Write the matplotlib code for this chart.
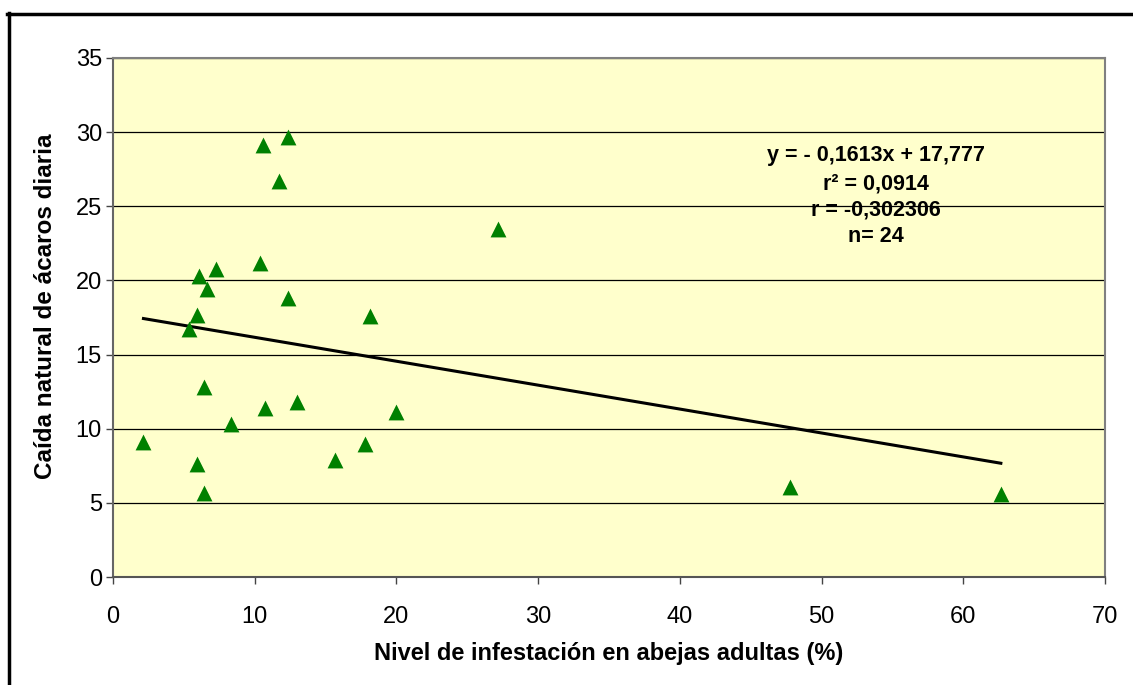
import matplotlib.pyplot as plt
from matplotlib.lines import Line2D

plt.rcParams['font.family'] = ['Liberation Sans', 'DejaVu Sans']

# datos
infestacion = [10.6, 12.35, 11.7, 10.4, 7.3, 6.1, 6.6, 12.35, 5.9, 5.35,
               6.45, 10.75, 12.95, 8.35, 2.15, 5.9, 6.45, 15.7, 17.75, 19.95,
               18.1, 27.15, 47.75, 62.65]
caida = [29.1, 29.7, 26.7, 21.2, 20.8, 20.3, 19.45, 18.8, 17.7, 16.75,
         12.8, 11.4, 11.8, 10.35, 9.1, 7.6, 5.65, 7.9, 9.0, 11.1,
         17.6, 23.45, 6.1, 5.6]

pendiente = -0.1613
intercepto = 17.777
texto_ajuste = ["y = - 0,1613x + 17,777", "r² = 0,0914", "r = -0,302306", "n= 24"]

fig = plt.figure(figsize=(11.33, 6.85), dpi=100)
ax = fig.add_axes([113 / 1133, 1 - 577 / 685, 992 / 1133, 519 / 685])
ax.set_facecolor('#FFFFCC')

ax.scatter(infestacion, caida, marker='^', s=130, color='#008000', zorder=3, linewidths=0)

x0, x1 = min(infestacion), max(infestacion)
ax.plot([x0, x1], [pendiente * x0 + intercepto, pendiente * x1 + intercepto],
        color='black', lw=2.2, zorder=2)

ax.set_xlim(0, 70)
ax.set_ylim(0, 35)
ax.set_xticks(range(0, 71, 10))
ax.set_yticks(range(0, 36, 5))
ax.yaxis.grid(True, color='black', lw=0.9)
ax.set_axisbelow(True)

for s in ax.spines.values():
    s.set_color('#808080')
    s.set_linewidth(1.5)
ax.spines['left'].set_color('#666666')
ax.spines['bottom'].set_color('#555555')

ax.tick_params(axis='both', direction='out', length=5, width=1, color='#444444',
               labelsize=17)
ax.tick_params(axis='y', pad=3)
ax.tick_params(axis='x', pad=16)

ax.set_xlabel('Nivel de infestación en abejas adultas (%)', fontsize=17,
              fontweight='bold', labelpad=10)
ax.set_ylabel('Caída natural de ácaros diaria', fontsize=17.5, fontweight='bold')
ax.yaxis.set_label_coords((57 - 113) / 992, (577 - 306) / 519)

# texto de la ecuacion
ys = [155.7, 184, 210, 236]
for t, yp in zip(texto_ajuste, ys):
    ax.text((876 - 113) / 992, (577 - yp) / 519, t, transform=ax.transAxes,
            ha='center', va='center', fontsize=15.5, fontweight='bold')

# marco exterior
fig.add_artist(Line2D([7 / 1133, 1], [1 - 13.5 / 685, 1 - 13.5 / 685],
                      color='black', lw=2.5, transform=fig.transFigure))
fig.add_artist(Line2D([8.5 / 1133, 8.5 / 1133], [0, 1 - 12.5 / 685],
                      color='black', lw=2.5, transform=fig.transFigure))

fig.savefig('out.png', dpi=100)
